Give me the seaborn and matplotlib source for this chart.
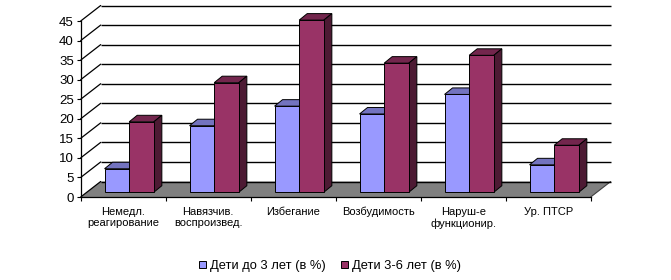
import numpy as np
import pandas as pd
import matplotlib
matplotlib.use("Agg")
import matplotlib.pyplot as plt
import matplotlib.patches as mpatches
import matplotlib.transforms as mtransforms
import seaborn as sns

# ---- data ----
categories = ["Немедл.\nреагирование", "Навязчив.\nвоспроизвед.", "Избегание",
              "Возбудимость", "Наруш-е\nфункционир.", "Ур. ПТСР"]
series_names = ["Дети до 3 лет (в %)", "Дети 3-6 лет (в %)"]
under3 = [6, 17, 22, 20, 25, 7]
age3to6 = [18, 28, 44, 33, 35, 12]
y_ticks = [0, 5, 10, 15, 20, 25, 30, 35, 40, 45]

# ---- style ----
front_cols = ["#9999FF", "#993366"]
top_cols = ["#7373BF", "#73264D"]
side_cols = ["#4D4D80", "#4D1A33"]

sns.set_style("white", rc={"axes.edgecolor": "black", "text.color": "black",
                           "xtick.color": "black", "ytick.color": "black",
                           "axes.labelcolor": "black"})
plt.rcParams["font.family"] = ["Liberation Sans", "DejaVu Sans"]

W, H = 671, 280
fig = plt.figure(figsize=(W / 100, H / 100), dpi=100)
fig.patch.set_facecolor("white")

px_per_cat = 85.0
px_per_unit = 176.0 / 45.0
x0_px, y0_px = 80.7, 197.0
right_px, top_px = 616.0, 3.0
ax = fig.add_axes([x0_px / W, (H - y0_px) / H, (right_px - x0_px) / W, (y0_px - top_px) / H])

df = pd.DataFrame({
    "category": categories * 2,
    "value": under3 + age3to6,
    "series": [series_names[0]] * len(categories) + [series_names[1]] * len(categories),
})

sns.barplot(data=df, x="category", y="value", hue="series", order=categories,
            hue_order=series_names, palette=front_cols, width=0.58, gap=0,
            edgecolor="black", linewidth=0.7, legend=False, ax=ax, saturation=1)

ax.set_xlim(-0.5, -0.5 + (right_px - x0_px) / px_per_cat)
ax.set_ylim(0, (y0_px - top_px) / px_per_unit)
ax.patch.set_alpha(0)

# depth geometry (data units)
DX = 20.0 / px_per_cat
DY = 15.5 / px_per_unit
bdx = 8.0 / px_per_cat
bdy = 6.5 / px_per_unit
n = len(categories)

# floor
floor = mpatches.Polygon([(-0.5, 0), (n - 0.5, 0), (n - 0.5 + DX, DY), (-0.5 + DX, DY)],
                         closed=True, facecolor="#808080", edgecolor="none", zorder=1)
ax.add_patch(floor)
ax.plot([n - 0.5, n - 0.5 + DX], [0, DY], color="#404040", lw=0.8, zorder=1.5)

# back wall gridlines and side wall diagonals
for v in y_ticks:
    ax.plot([-0.5 + DX, n - 0.5 + DX], [v + DY, v + DY], color="black", lw=1.0,
            zorder=2, clip_on=False, solid_capstyle="butt")
    ax.plot([-0.5, -0.5 + DX], [v, v + DY], color="black", lw=0.9, zorder=2, clip_on=False)

# bars in a plane slightly behind the front
bar_trans = mtransforms.offset_copy(ax.transData, fig=fig, x=6, y=4.8, units="dots")
for j, cont in enumerate(ax.containers):
    for i, p in enumerate(cont.patches):
        base_z = 5 + i + j * 0.3
        p.set_transform(bar_trans)
        p.set_zorder(base_z + 0.1)
        x0 = p.get_x()
        x1 = x0 + p.get_width()
        h = p.get_height()
        top = mpatches.Polygon([(x0, h), (x1, h), (x1 + bdx, h + bdy), (x0 + bdx, h + bdy)],
                               closed=True, facecolor=top_cols[j], edgecolor="black",
                               lw=0.7, transform=bar_trans, zorder=base_z)
        side = mpatches.Polygon([(x1, 0), (x1 + bdx, bdy), (x1 + bdx, h + bdy), (x1, h)],
                                closed=True, facecolor=side_cols[j], edgecolor="black",
                                lw=0.7, transform=bar_trans, zorder=base_z)
        ax.add_patch(top)
        ax.add_patch(side)

# axes / ticks
for s in ["top", "right"]:
    ax.spines[s].set_visible(False)
ax.spines["left"].set_bounds(0, 45)
ax.spines["bottom"].set_bounds(-0.5, n - 0.5)
for s in ["left", "bottom"]:
    ax.spines[s].set_linewidth(0.9)
    ax.spines[s].set_color("black")
    ax.spines[s].set_zorder(3)

ax.set_yticks(y_ticks)
ax.set_yticklabels([str(t) for t in y_ticks])
ax.tick_params(axis="y", which="major", direction="out", length=3, width=0.8,
               labelsize=9.5, pad=2, left=True)
ax.set_xticks(np.arange(-0.5, n, 1.0))
ax.set_xticklabels([])
ax.tick_params(axis="x", which="major", direction="out", length=3, width=0.8, bottom=True)
ax.set_xticks(range(n), minor=True)
ax.set_xticklabels(categories, minor=True, fontsize=8, linespacing=1.2)
ax.tick_params(axis="x", which="minor", length=0, pad=7)
ax.set_xlabel("")
ax.set_ylabel("")

handles = [mpatches.Patch(facecolor=front_cols[k], edgecolor="black", lw=0.7,
                          label=series_names[k]) for k in range(2)]
fig.legend(handles=handles, loc="center", bbox_to_anchor=(330 / W, (H - 266) / H),
           ncol=2, frameon=False, fontsize=9.3, handlelength=0.55, handleheight=0.55,
           handletextpad=0.3, columnspacing=1.2)

fig.savefig("out.png", dpi=100, facecolor="white")
